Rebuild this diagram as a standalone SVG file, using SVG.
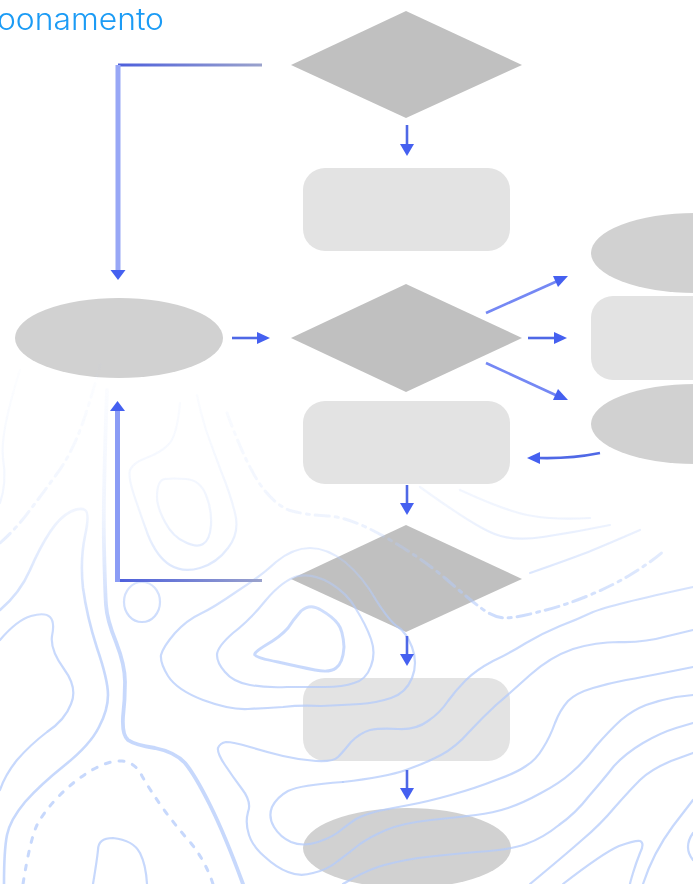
<svg xmlns="http://www.w3.org/2000/svg" width="693" height="884" viewBox="0 0 693 884">
<style>
.dia{fill:#c0c0c0}.box{fill:#e3e3e3}.ell{fill:#d1d1d1}
.c{fill:none;stroke:url(#fade);stroke-width:2.2;stroke-linecap:round;stroke-linejoin:round}
.ar{fill:none;stroke:#5068e6;stroke-width:2.6}
.sl{fill:none;stroke:#7488f4;stroke-width:2.6}
.hd{fill:#4560f0}
.title{font-family:"Inter","Open Sans",sans-serif;font-weight:300;font-size:30px;fill:#1a9bf5}
</style>
<defs>
<linearGradient id="fade" gradientUnits="userSpaceOnUse" x1="0" y1="370" x2="0" y2="690">
<stop offset="0" stop-color="#b4cbfb" stop-opacity=".03"/><stop offset=".45" stop-color="#b4cbfb" stop-opacity=".2"/><stop offset=".8" stop-color="#b4cbfb" stop-opacity=".7"/><stop offset="1" stop-color="#b4cbfb" stop-opacity=".75"/>
</linearGradient>
<linearGradient id="hl" gradientUnits="userSpaceOnUse" x1="118" y1="0" x2="262" y2="0">
<stop offset="0" stop-color="#4d5fdc"/><stop offset="1" stop-color="#9aa2cc"/>
</linearGradient>
<filter id="soft" x="-5%" y="-5%" width="110%" height="110%"><feGaussianBlur stdDeviation=".7"/></filter>
<filter id="softer" x="-5%" y="-5%" width="110%" height="110%"><feGaussianBlur stdDeviation=".4"/></filter>
</defs>
<rect width="693" height="884" fill="#fff"/>
<g filter="url(#softer)">
<g id="n1"><path class="dia" d="M406 11L522 65L406 118L291 65Z"/></g>
<g id="n2"><rect class="box" x="303" y="168" width="207" height="83" rx="22"/></g>
<g id="n3"><path class="dia" d="M406 284L522 338L406 392L291 338Z"/></g>
<g id="n4"><ellipse class="ell" cx="119" cy="338" rx="104" ry="40"/></g>
<g id="n5"><ellipse class="ell" cx="695" cy="253" rx="104" ry="40"/></g>
<g id="n6"><rect class="box" x="591" y="296" width="130" height="84" rx="22"/></g>
<g id="n7"><ellipse class="ell" cx="695" cy="424" rx="104" ry="40"/></g>
<g id="n8"><rect class="box" x="303" y="401" width="207" height="83" rx="22"/></g>
<g id="n9"><path class="dia" d="M406 525L522 579L406 632L291 579Z"/></g>
<g id="n10"><rect class="box" x="303" y="678" width="207" height="83" rx="22"/></g>
<g id="n11"><ellipse class="ell" cx="407" cy="848" rx="104" ry="40"/></g>
</g>
<g id="contours" filter="url(#soft)">
<path class="c" style="stroke-width:3.8" d="M107 390Q103 500 104 545Q105 590 106 605Q107 620 116 642Q125 665 125 682Q125 700 123 717Q122 735 128 740Q135 745 155 748Q175 752 185 763Q195 775 210 805Q225 835 243 884"/>
<path class="c" style="stroke-width:2.6" d="M0 610Q20 593 30 570Q40 547 50 532Q60 517 70 512Q80 507 85 510Q90 513 85 536Q80 560 83 588Q87 617 97 648Q108 680 108 695Q108 710 99 727Q90 745 65 765Q40 785 25 802Q10 820 7 835Q4 850 4 884"/>
<path class="c" d="M0 640Q17 620 31 616Q45 612 50 617Q55 622 52 636Q50 650 64 669Q78 688 71 704Q65 720 47 732Q30 745 17 760Q5 775 0 790"/>
<path class="c" style="stroke-width:3;stroke-dasharray:5 9" d="M23 884Q30 840 37 825Q45 810 60 795Q75 780 92 770Q110 760 122 761Q135 762 142 776Q150 790 162 807Q175 825 190 842Q205 860 213 884"/>
<path class="c" d="M93 884Q97 860 98 850Q98 838 113 838Q133 840 140 853Q146 865 147 884"/>
<ellipse class="c" cx="142" cy="602" rx="18" ry="20"/>
<path class="c" d="M180 403Q177 437 168 445Q160 453 146 458Q133 463 130 470Q128 477 134 495Q140 513 148 535Q157 557 170 565Q183 573 200 568Q217 563 228 548Q240 533 235 513Q230 493 221 471Q213 450 206 430Q200 410 197 395"/>
<path class="c" d="M157 497Q157 480 165 479Q173 478 186 479Q200 480 206 495Q212 510 211 525Q210 540 203 544Q197 548 185 542Q173 537 165 522Q157 507 157 497Z"/>
<path class="c" style="stroke-width:3;stroke-dasharray:14 6 3 6" d="M0 543Q17 528 30 510Q43 493 56 475Q70 457 82 425Q93 393 100 365"/>
<path class="c" d="M20 370Q0 433 3 458Q7 483 0 503"/>
<path class="c" style="stroke-width:3;stroke-dasharray:14 6 3 6" d="M227 413Q247 467 262 487Q277 507 292 511Q307 515 328 516Q350 517 385 537Q420 557 445 578Q470 600 481 608Q493 617 504 618Q516 618 538 612Q560 607 585 597Q610 587 630 575Q650 563 665 550"/>
<path class="c" d="M420 487Q470 523 490 532Q510 542 543 537Q576 532 610 525"/>
<path class="c" d="M460 490Q510 513 533 516Q556 520 590 518"/>
<path class="c" d="M530 573Q576 557 593 550Q610 543 640 530"/>
<path class="c" d="M200 614Q213 608 236 592Q260 577 276 562Q293 548 310 548Q327 548 345 562Q363 577 376 600Q390 622 398 627Q406 632 412 647Q418 663 412 678Q406 693 391 698Q376 703 360 704Q343 705 321 706Q300 705 283 707Q267 708 248 709Q230 710 203 700Q177 690 168 676Q160 663 161 655Q163 647 175 633Q187 620 200 614"/>
<path class="c" d="M266 600Q283 580 298 576Q313 573 330 583Q347 593 356 609Q366 625 371 639Q376 653 371 666Q366 680 354 683Q343 687 325 687Q307 687 287 687Q267 688 250 685Q233 682 225 672Q217 663 217 655Q217 647 233 633Q250 620 266 600"/>
<path class="c" style="stroke-width:3" d="M301 611Q310 603 321 610Q333 617 338 624Q343 630 344 647Q343 663 336 668Q330 673 315 670Q300 667 278 662Q257 658 255 655Q253 653 266 645Q280 637 288 628Q293 620 301 611"/>
<path class="c" d="M693 587Q610 605 593 612Q576 620 560 626Q543 633 526 643Q510 653 493 661Q476 670 466 680Q456 690 448 701Q440 713 428 721Q416 730 398 729Q380 728 370 730Q360 733 351 742Q343 752 338 757Q333 762 316 761Q300 760 283 756Q267 752 250 747Q233 742 226 742Q220 743 218 748Q217 753 225 765Q233 777 242 789Q252 802 248 812Q245 823 249 835Q253 847 265 857Q277 868 288 872Q300 877 313 873Q327 870 338 861Q350 852 360 844Q370 837 386 830Q403 823 431 820Q460 817 476 815Q493 813 508 808Q523 803 541 793Q560 783 571 773Q583 763 596 746Q610 730 621 720Q633 710 646 705Q660 700 676 697Q693 695 693 695"/>
<path class="c" d="M343 782Q386 777 406 770Q426 763 441 755Q456 747 469 732Q483 717 496 705Q510 693 530 675Q550 657 573 649Q596 642 619 642Q643 643 668 636Q693 630 693 630"/>
<path class="c" d="M343 782Q300 785 288 791Q277 797 272 807Q268 817 274 827Q280 837 291 842Q303 847 318 842Q333 837 341 830Q350 823 356 819Q363 815 378 811Q393 808 409 805Q426 802 451 795Q476 788 496 780Q516 773 526 766Q536 760 543 748Q550 737 555 723Q560 710 568 701Q576 693 593 688Q610 683 626 680Q643 677 668 672Q693 667 693 667"/>
<path class="c" d="M343 884Q363 872 378 867Q393 862 418 858Q443 855 476 852Q510 850 526 844Q543 838 559 825Q576 813 589 796Q603 780 614 766Q626 753 643 743Q660 733 676 728Q693 723 693 723"/>
<path class="c" d="M530 884Q565 855 582 840Q600 825 615 807Q630 790 640 780Q650 770 671 761Q693 753 693 753"/>
<path class="c" d="M563 884Q603 853 619 846Q636 840 640 841Q645 843 640 853Q636 863 633 873Q630 883 630 884"/>
<path class="c" d="M643 884Q653 853 673 826Q693 800 693 800"/>
<path class="c" d="M693 833Q688 840 688 847Q688 854 693 860"/>
</g>
<g id="connectors" filter="url(#soft)">
<path d="M262 65H118" fill="none" stroke="url(#hl)" stroke-width="2.800"/>
<path d="M118 65V272" fill="none" stroke="#98a7f6" stroke-width="5"/>
<path class="hd" d="M110.500 270H125.500L118 280Z"/>
<path d="M262 580.500H118" fill="none" stroke="url(#hl)" stroke-width="2.800"/>
<path d="M117.500 582V408" fill="none" stroke="#8b9cf5" stroke-width="5"/>
<path class="hd" d="M110 411H125L117.500 401Z"/>
<path class="ar" d="M407 125V146"/><path class="hd" d="M400 144H414L407 156Z"/>
<path class="ar" d="M232 338H260"/><path class="hd" d="M257 332V344L270 338Z"/>
<path class="sl" d="M486 313L562 279"/><path class="hd" d="M553 276H568L558 287Z"/>
<path class="ar" d="M528 338H556"/><path class="hd" d="M554 332V344L567 338Z"/>
<path class="sl" d="M486 363L562 398"/><path class="hd" d="M553 400H568L558 389Z"/>
<path class="ar" d="M600 453Q570 459 538 458"/><path class="hd" d="M540 452V464L527 458Z"/>
<path class="ar" d="M407 485V505"/><path class="hd" d="M400 503H414L407 515Z"/>
<path class="ar" d="M407 636V656"/><path class="hd" d="M400 654H414L407 666Z"/>
<path class="ar" d="M407 770V790"/><path class="hd" d="M400 788H414L407 800Z"/>
</g>
<text class="title" x="-3" y="30" textLength="167" lengthAdjust="spacingAndGlyphs" filter="url(#softer)">oonamento</text>
</svg>
